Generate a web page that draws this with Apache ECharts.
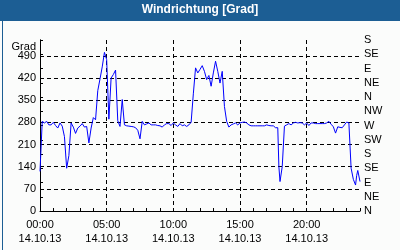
<!DOCTYPE html>
<html>
<head>
<meta charset="utf-8">
<script src="https://cdn.jsdelivr.net/npm/echarts@6/dist/echarts.min.js"></script>
<style>
html,body{margin:0;padding:0;background:#fbfcfb;}
#c{width:400px;height:250px;}
</style>
</head>
<body>
<div id="c"></div>
<script>
const chartTitle = 'Windrichtung [Grad]';
const dateLabel = '14.10.13';
const yName = 'Grad';
const compassLabels = ['N','NE','E','SE','S','SW','W','NW','N','NE','E','SE','S'];
const leftTicks = [0,70,140,210,280,350,420,490];

const times = [
 '00:00','00:10','00:20','00:30','00:40','00:50',
 '01:00','01:10','01:20','01:30','01:40','01:50',
 '02:00','02:10','02:20','02:30','02:40','02:50',
 '03:00','03:10','03:20','03:30','03:40','03:50',
 '04:00','04:10','04:20','04:30','04:40','04:50',
 '05:00','05:10','05:20','05:30','05:40','05:50',
 '06:00','06:10','06:20','06:30','06:40','06:50',
 '07:00','07:10','07:20','07:30','07:40','07:50',
 '08:00','08:10','08:20','08:30','08:40','08:50',
 '09:00','09:10','09:20','09:30','09:40','09:50',
 '10:00','10:10','10:20','10:30','10:40','10:50',
 '11:00','11:10','11:20','11:30','11:40','11:50',
 '12:00','12:10','12:20','12:30','12:40','12:50',
 '13:00','13:10','13:20','13:30','13:40','13:50',
 '14:00','14:10','14:20','14:30','14:40','14:50',
 '15:00','15:10','15:20','15:30','15:40','15:50',
 '16:00','16:10','16:20','16:30','16:40','16:50',
 '17:00','17:10','17:20','17:30','17:40','17:45','17:50','17:55',
 '18:00','18:10','18:20','18:30','18:40','18:50',
 '19:00','19:10','19:20','19:30','19:40','19:50',
 '20:00','20:10','20:20','20:30','20:40','20:50',
 '21:00','21:10','21:20','21:30','21:40','21:50',
 '22:00','22:10','22:20','22:30','22:40','22:50',
 '23:00','23:10','23:20','23:30','23:40','23:45','23:50','24:00'
];
const direction = [
 125,283,278,283,272,272,
 280,270,262,278,268,235,
 135,175,278,265,245,262,
 268,276,265,267,215,262,
 295,288,380,417,455,501,
 478,290,420,431,445,285,
 267,352,272,269,268,267,
 266,263,255,228,283,272,
 275,278,272,272,272,270,
 269,265,272,276,276,270,
 278,272,267,276,269,272,
 267,272,280,370,452,436,
 447,459,441,415,428,394,
 436,473,441,404,441,330,
 283,265,272,275,278,272,
 278,280,281,278,272,269,
 269,269,269,269,269,269,
 272,270,269,269,263,266,263,140,93,140,
 268,272,276,272,278,280,
 278,279,278,272,278,270,
 278,278,276,276,276,276,
 276,278,283,274,266,246,
 266,264,263,272,281,278,
 135,100,82,112,128,93,130,145
];

function toHours(t){ const p=t.split(':'); return (+p[0]) + (+p[1])/60; }
const seriesData = times.map((t,i)=>[toHours(t), direction[i]]);

const font = 'Liberation Sans, Arial, sans-serif';
const chart = echarts.init(document.getElementById('c'), null, {renderer:'canvas'});
chart.setOption({
  animation:false,
  backgroundColor:'#fbfcfb',
  graphic:[
    {type:'rect', left:0, top:0, shape:{width:400, height:21}, style:{fill:'#1c5e94'}, z:0},
    {type:'rect', left:0, top:0, shape:{x:0.5,y:0.5,width:399,height:249}, style:{fill:null, stroke:'#1c5e94', lineWidth:1}, z:0},
    {type:'text', left:'center', top:4, style:{text:chartTitle, fill:'#ffffff', font:'bold 12px '+font}, z:10},
    {type:'text', right:364, top:41, style:{text:yName, fill:'#000', font:'11px '+font, align:'right'}, z:10}
  ],
  grid:{left:40, right:40, top:40, bottom:39, containLabel:false},
  xAxis:[
    {type:'value', min:0, max:24, interval:1,
     axisLine:{show:true, lineStyle:{color:'#000', width:1}},
     axisTick:{show:true, inside:true, length:3, lineStyle:{color:'#000'}},
     axisLabel:{show:false}, splitLine:{show:false}},
    {type:'value', min:0, max:24, interval:5, position:'bottom',
     axisLine:{show:false}, axisTick:{show:false},
     axisLabel:{show:true, margin:7, color:'#000', fontFamily:font, fontSize:11, lineHeight:14,
       showMaxLabel:false,
       formatter:function(v){ if(v>=24) return ''; const h=String(v).padStart(2,'0'); return h+':00\n'+dateLabel; }},
     splitLine:{show:true, showMinLine:false, showMaxLine:false, lineStyle:{color:'#000', type:[4,3], width:1}}}
  ],
  yAxis:[
    {type:'value', min:0, max:540, interval:70, position:'left',
     axisLine:{show:true, lineStyle:{color:'#000', width:1}},
     axisTick:{show:false},
     axisLabel:{margin:4, color:'#000', fontFamily:font, fontSize:11,
       formatter:function(v){ return leftTicks.indexOf(v)>=0 ? String(v) : ''; }},
     splitLine:{show:true, showMinLine:false, showMaxLine:false, lineStyle:{color:'#000', type:[4,3], width:1}}},
    {type:'value', min:0, max:540, interval:45, position:'right',
     axisLine:{show:true, lineStyle:{color:'#000', width:1}},
     axisTick:{show:true, inside:false, length:3, lineStyle:{color:'#000'}},
     axisLabel:{margin:4, color:'#000', fontFamily:font, fontSize:11,
       formatter:function(v){ return compassLabels[Math.round(v/45)] || ''; }},
     splitLine:{show:false}}
  ],
  series:[{
    type:'line', xAxisIndex:0, yAxisIndex:0, data:seriesData,
    showSymbol:false, symbol:'none',
    lineStyle:{color:'#0000ff', width:1}, itemStyle:{color:'#0000ff'}
  }]
});
</script>
</body>
</html>
